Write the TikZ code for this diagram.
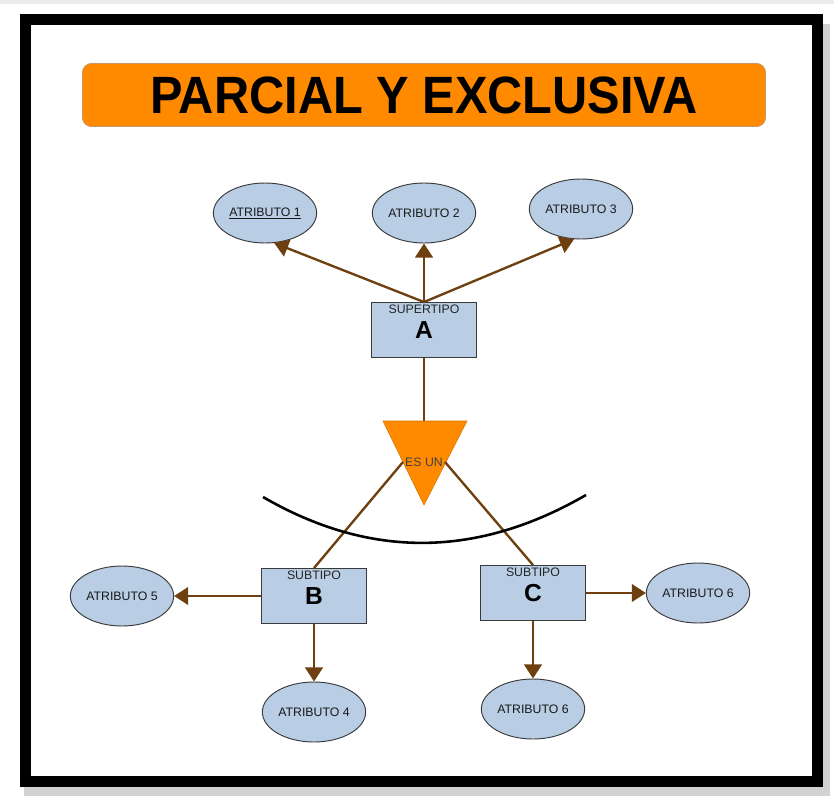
\documentclass[tikz,border=0pt]{standalone}
\usepackage{fontspec}
\setmainfont{Liberation Sans}
\usetikzlibrary{arrows.meta, shapes.geometric}
\definecolor{naranja}{HTML}{FF8A00}
\definecolor{celeste}{HTML}{B9CDE5}
\definecolor{cafe}{HTML}{6E4010}
\definecolor{borde}{HTML}{3A3A3A}

\begin{document}
\begin{tikzpicture}[x=0.03cm, y=-0.03cm,
    attr/.style={ellipse, draw=borde, thick, fill=celeste, minimum width=3.1cm, minimum height=1.8cm,
      inner sep=0pt, font=\fontsize{10.5}{12}\selectfont, text=black!90},
    ent/.style={rectangle, draw=borde, thick, fill=celeste, minimum width=3.15cm, minimum height=1.65cm,
      inner sep=0pt, font=\fontsize{21}{24}\selectfont\bfseries},
    tipo/.style={anchor=north, inner sep=2pt, font=\fontsize{10.5}{12}\selectfont, text=black!85},
    enlace/.style={cafe, line width=2pt},
    flecha/.style={enlace, -{Triangle[width=15pt,length=12pt]}}]
    \useasboundingbox (0,0) rectangle (834,800);
    % marco
    \fill[gray!15] (0,0) rectangle (834,4);
    \fill[gray!35] (24,24) rectangle (830,796);
    \fill[white] (20,14) rectangle (823,787);
    \draw[line width=0.33cm] (25.5,19.5) rectangle (817.5,781.5);
    % titulo
    \node[draw=cafe!60, fill=naranja, rounded corners=8pt, minimum width=20.5cm, minimum height=1.9cm,
      font=\fontsize{40}{44}\selectfont\bfseries] (titulo) at (424,95) {\scalebox{1.04}[1.12]{PARCIAL Y EXCLUSIVA}};
    % supertipo y atributos
    \node[ent, label={[tipo]north:SUPERTIPO}] (super) at (424,330) {A};
    \node[attr] (attr1) at (265,213) {\underline{ATRIBUTO 1}};
    \node[attr] (attr2) at (424,213) {ATRIBUTO 2};
    \node[attr] (attr3) at (581,209) {ATRIBUTO 3};
    \draw[flecha] (super.north) -- (attr1.-73);
    \draw[flecha] (super.north) -- (attr2.south);
    \draw[flecha] (super.north) -- (attr3.-103);
    % es un
    \coordinate (isaN) at (424,421);
    \coordinate (isaL) at (403,462);
    \coordinate (isaR) at (445,462);
    \draw[enlace] (super.south) -- (isaN);
    \filldraw[fill=naranja, draw=naranja!85!black, line width=0.5pt] (383,421) -- (467,421) -- (424,505) -- cycle;
    \node[font=\fontsize{10.5}{12}\selectfont, text=black!75] (esun) at (424,462) {ES UN};
    % subtipos
    \node[ent, label={[tipo]north:SUBTIPO}] (subB) at (314,596) {B};
    \node[ent, label={[tipo]north:SUBTIPO}] (subC) at (533,593) {C};
    \draw[enlace] (isaL) -- (subB.north);
    \draw[enlace] (isaR) -- (subC.north);
    \draw[line width=2.2pt] (263,497) .. controls (370,559) and (477,558) .. (586,495);
    \node[attr] (attr5) at (122,596) {ATRIBUTO 5};
    \node[attr] (attr4) at (314,712) {ATRIBUTO 4};
    \node[attr] (attr6) at (698,593) {ATRIBUTO 6};
    \node[attr] (attr6b) at (533,709) {ATRIBUTO 6};
    \draw[flecha] (subB.west) -- (attr5.east);
    \draw[flecha] (subB.south) -- (attr4.north);
    \draw[flecha] (subC.east) -- (attr6.west);
    \draw[flecha] (subC.south) -- (attr6b.north);
\end{tikzpicture}
\end{document}
